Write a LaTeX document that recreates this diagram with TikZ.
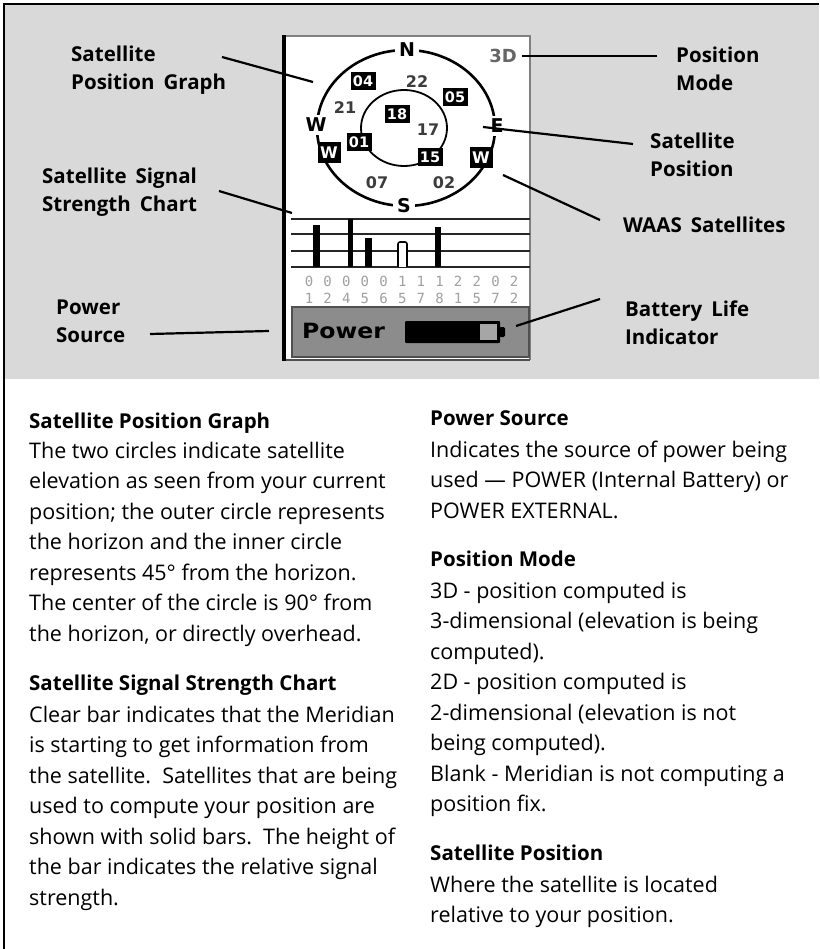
\documentclass[tikz,border=0pt]{standalone}
\usepackage{fontspec}
\setmainfont{Open Sans}
\newfontfamily\lblfont{Open Sans}[WordSpace=1.7]
\newfontfamily\dvs{DejaVu Sans}
\newfontfamily\dvm{DejaVu Sans Mono}
\definecolor{bggray}{RGB}{217,217,217}
\definecolor{pwrgray}{RGB}{140,140,140}
\definecolor{pwredge}{RGB}{80,80,80}
\definecolor{scredge}{RGB}{128,128,128}
\definecolor{numgray}{RGB}{60,60,60}
\definecolor{lcdgray}{RGB}{160,160,160}
\begin{document}
\begin{tikzpicture}[x=1pt,y=-1pt,
  bodytxt/.style={anchor=base west, align=left, inner sep=0, font=\fontsize{21.5}{30.5}\selectfont},
  headtxt/.style={anchor=base west, inner sep=0, font=\bfseries\fontsize{20.5}{24}\selectfont},
  callout/.style={anchor=base west, align=left, inner sep=0, font=\lblfont\bfseries\fontsize{20.5}{28}\selectfont},
  leader/.style={line width=2.2pt, black},
  compass/.style={fill=white, inner xsep=4pt, inner ysep=3pt, font=\dvs\bfseries\fontsize{19}{19}\selectfont},
  satbox/.style={fill=black, text=white, inner sep=0, minimum width=25pt, minimum height=18pt, font=\dvs\bfseries\fontsize{14.5}{14.5}\selectfont},
  waasbox/.style={fill=black, text=white, inner sep=0, minimum width=23pt, minimum height=21pt, font=\dvs\bfseries\fontsize{16}{16}\selectfont},
  satnum/.style={inner sep=0, text=numgray, font=\dvs\bfseries\fontsize{16}{16}\selectfont},
  lcdnum/.style={inner sep=0, text=lcdgray, font=\dvm\fontsize{14}{14}\selectfont},
  chartline/.style={line width=2.4pt, black!85},
  sbar/.style={fill=black}
]
\useasboundingbox (0,0) rectangle (819,949);
\fill[white] (0,0) rectangle (819,949);
\fill[bggray] (4,4) rectangle (819,379);
\draw[line width=2.2pt] (4,949) -- (4,4) -- (819,4);

% ---- screen ----
\fill[white] (284,36) rectangle (530,360);
\draw[scredge, line width=2.2pt] (284,36) -- (530,36) -- (530,360);
\draw[pwredge, line width=2pt] (284,360) -- (530,360);
\draw[black, line width=3.6pt] (284,35) -- (284,361);

% compass
\draw[line width=2.6pt] (406,128) ellipse [x radius=89, y radius=78];
\draw[line width=1.8pt] (404,128) ellipse [x radius=43, y radius=38];
\node[compass] (cN) at (407,50) {N};
\node[compass] (cS) at (404,206) {S};
\node[compass] (cW) at (316,125) {W};
\node[compass, inner xsep=2pt] (cE) at (497,126) {E};
\node[satnum, text=gray!80!black, font=\dvs\bfseries\fontsize{18}{18}\selectfont] (mode) at (503,56) {3D};

\node[satbox] (s04) at (363,81) {04};
\node[satbox] (s05) at (455,97) {05};
\node[satbox] (s18) at (397,114) {18};
\node[satbox] (s01) at (359,142) {01};
\node[satbox] (s15) at (430,157) {15};
\node[waasbox] (wL) at (329,153) {W};
\node[waasbox] (wR) at (481,158) {W};

\node[satnum] (n22) at (417,82) {22};
\node[satnum] (n21) at (345,108) {21};
\node[satnum] (n17) at (428,130) {17};
\node[satnum] (n07) at (377,183) {07};
\node[satnum] (n02) at (444,183) {02};

% signal chart
\draw[chartline] (291,219) -- (530,219);
\draw[chartline] (291,234) -- (530,234);
\draw[chartline] (291,251) -- (530,251);
\draw[chartline] (291,267) -- (530,267);
\fill[sbar] (313,225) rectangle (320,267);
\fill[sbar] (348,219) rectangle (353,267);
\fill[sbar] (365,238) rectangle (372,267);
\draw[black, line width=1.6pt, fill=white, rounded corners=2pt] (398,267) -- (398,242) -- (407,242) -- (407,267);
\fill[sbar] (435,227) rectangle (441,267);

\foreach \d [count=\i from 0] in {0,0,0,0,0,1,1,1,2,2,0,2}
  \node[lcdnum] (ra\i) at ({309+18.65*\i},281) {\d};
\foreach \d [count=\i from 0] in {1,2,4,5,6,5,7,8,1,5,7,2}
  \node[lcdnum] (rb\i) at ({309+18.65*\i},298) {\d};

% power box
\draw[fill=pwrgray, draw=pwredge, line width=2pt] (292,307) rectangle (529,357);
\node[anchor=base west, inner sep=0, font=\dvs\bfseries\fontsize{21}{21}\selectfont] (pwr) at (302,338) {\scalebox{1.12}[1]{Power}};
\fill[black, rounded corners=1pt] (405,321) rectangle (500,343);
\fill[black!35] (480,324) rectangle (497,340);
\fill[black, rounded corners=1.5pt] (499,327) rectangle (505,337);

% ---- callout labels (base = last line) ----
\node[callout] (lSPG) at (71,90) {Satellite\\Position Graph};
\node[callout] (lSSS) at (42,212) {Satellite Signal\\Strength Chart};
\node[callout] (lPS) at (56,342) {Power\\Source};
\node[callout] (lPM) at (676,91) {Position\\Mode};
\node[callout] (lSP) at (650,177) {Satellite\\Position};
\node[callout] (lWAAS) at (623,233) {WAAS Satellites};
\node[callout] (lBLI) at (625,344) {Battery Life\\Indicator};

\coordinate (a1) at (222,57);  \coordinate (b1) at (313,82);
\coordinate (a2) at (219,191); \coordinate (b2) at (292,213);
\coordinate (a3) at (150,334); \coordinate (b3) at (269,331);
\coordinate (a4) at (657,56);  \coordinate (b4) at (522,56);
\coordinate (a5) at (633,144); \coordinate (b5) at (483,127);
\coordinate (a6) at (600,220); \coordinate (b6) at (503,175);
\coordinate (a7) at (600,299); \coordinate (b7) at (516,326);
\draw[leader] (a1) -- (b1);
\draw[leader] (a2) -- (b2);
\draw[leader] (a3) -- (b3);
\draw[leader] (a4) -- (b4);
\draw[leader] (a5) -- (b5);
\draw[leader] (a6) -- (b6);
\draw[leader] (a7) -- (b7);

% ---- descriptions (base = last line) ----
\node[headtxt] (h1) at (29,428) {Satellite Position Graph};
\node[bodytxt] (p1) at (29,641) {The two circles indicate satellite\\elevation as seen from your current\\position; the outer circle represents\\the horizon and the inner circle\\represents 45° from the horizon.\\The center of the circle is 90° from\\the horizon, or directly overhead.};
\node[headtxt] (h2) at (29,690) {Satellite Signal Strength Chart};
\node[bodytxt] (p2) at (29,905) {Clear bar indicates that the Meridian\\is starting to get information from\\the satellite.\ \ Satellites that are being\\used to compute your position are\\shown with solid bars.\ \ The height of\\the bar indicates the relative signal\\strength.};

\node[headtxt] (h3) at (430,425) {Power Source};
\node[bodytxt] (p3) at (430,518) {Indicates the source of power being\\used — POWER (Internal Battery) or\\POWER EXTERNAL.};
\node[headtxt] (h4) at (430,566) {Position Mode};
\node[bodytxt] (p4) at (430,811.5) {3D - position computed is\\3-dimensional (elevation is being\\computed).\\2D - position computed is\\2-dimensional (elevation is not\\being computed).\\Blank - Meridian is not computing a\\position fix.};
\node[headtxt] (h5) at (430,860) {Satellite Position};
\node[bodytxt] (p5) at (430,922.5) {Where the satellite is located\\relative to your position.};
\end{tikzpicture}
\end{document}
